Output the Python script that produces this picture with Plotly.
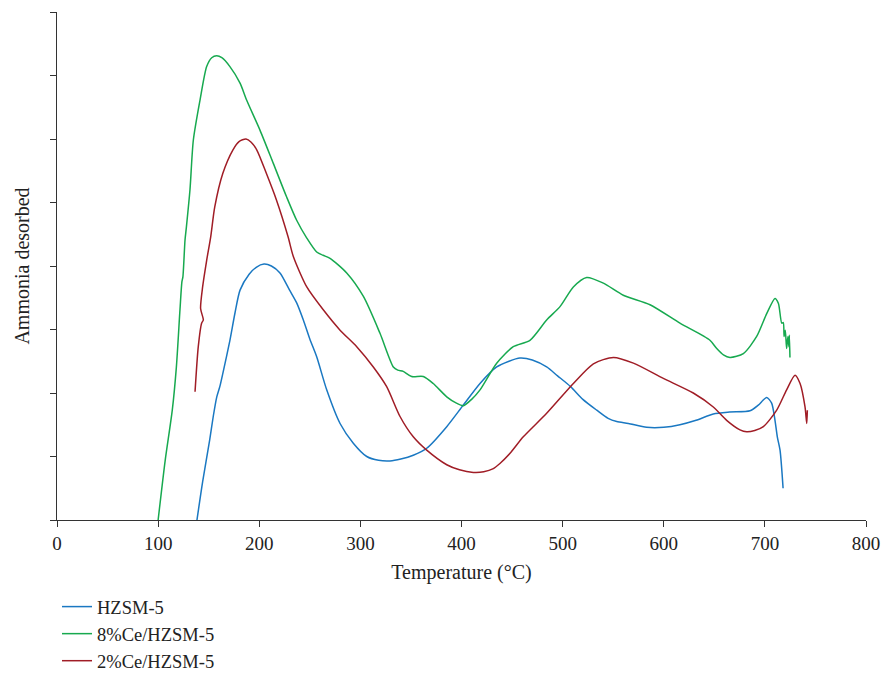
import plotly.graph_objects as go

# HZSM-5 (blue)
hz_t = [138.4, 144, 151, 154.5, 158, 161, 164, 171, 176, 181, 190, 197, 204.7, 212, 220.5, 230, 237,
        243.6, 250, 256.8, 266.7, 279.9, 293, 306.3, 318, 329.3, 340, 352.3, 365.6, 385.4, 401.8, 418.3,
        434.8, 447, 457.8, 470, 484.2, 495, 507.9, 520, 533.7, 545, 553.5, 565, 583.1, 600, 616, 632,
        649, 665, 685.3, 693.5, 701.8, 706.7, 710, 712.3, 715, 718]
hz_y = [0, 0.6, 1.26, 1.63, 1.94, 2.1, 2.31, 2.83, 3.26, 3.62, 3.87, 3.98, 4.03, 4.0, 3.89, 3.62, 3.42,
        3.15, 2.85, 2.57, 2.05, 1.52, 1.21, 1.0, 0.94, 0.93, 0.96, 1.02, 1.13, 1.47, 1.81, 2.15,
        2.41, 2.5, 2.55, 2.52, 2.41, 2.27, 2.1, 1.9, 1.73, 1.6, 1.55, 1.52, 1.46, 1.46, 1.5, 1.57,
        1.67, 1.7, 1.72, 1.81, 1.93, 1.84, 1.57, 1.31, 1.1, 0.5]

# 8%Ce/HZSM-5 (green)
ce8_t = [100, 107, 114, 118, 121.6, 123.5, 124.5, 126.6, 128, 131.5, 134.8, 141.4, 148, 153, 157.9, 163,
         171, 181, 187.6, 200.7, 213.8, 227, 237, 247, 256.8, 263, 270, 286.5, 303, 319.4, 332.6, 337,
         342.4, 350.7, 362.2, 372, 385.4, 395, 401.8, 410, 418.3, 434.8, 451.2, 467.7, 484.2, 497.4,
         510.6, 523.8, 540.3, 560, 586.4, 616, 645.7, 652.4, 659, 665.5, 678.7, 691.9, 701.8, 710,
         713.4, 716.7, 718.2, 719, 720.2, 721.5, 722.8, 723.8, 724.2, 724.8]
ce8_y = [0, 0.94, 1.73, 2.4, 3.31, 3.75, 3.83, 4.41, 4.62, 5.2, 5.98, 6.61, 7.14, 7.28, 7.31, 7.28,
         7.14, 6.88, 6.61, 6.14, 5.62, 5.09, 4.72, 4.44, 4.22, 4.17, 4.12, 3.89, 3.52, 2.94, 2.41, 2.36,
         2.34, 2.26, 2.26, 2.15, 1.94, 1.84, 1.8, 1.9, 2.05, 2.47, 2.73, 2.83, 3.15, 3.36,
         3.67, 3.82, 3.73, 3.54, 3.39, 3.1, 2.83, 2.7, 2.6, 2.56, 2.62, 2.89, 3.25, 3.49,
         3.41, 3.1, 3.11, 2.89, 2.99, 2.7, 2.89, 2.73, 2.91, 2.56]

# 2%Ce/HZSM-5 (red)
ce2_t = [136.5, 139.7, 143, 144.7, 142, 144, 148, 152, 156, 164, 174, 180, 186.9, 192, 197.5, 207, 217,
         228.5, 233.7, 247, 263.3, 279.9, 296.4, 312.8, 326, 339.2, 352.3, 365.6, 385.4, 398, 411.7, 422,
         431.5, 438, 448, 461.1, 484.2, 510.6, 530.4, 550.2, 570, 599.6, 629.2, 649, 662.2, 675.4, 682,
         690, 698.5, 711.7, 721.5, 729.8, 734.8, 739.7, 741.4, 742]
ce2_y = [2.02, 2.73, 3.1, 3.15, 3.33, 3.67, 4.09, 4.46, 4.93, 5.46, 5.83, 5.96, 6.0, 5.95, 5.83, 5.46, 5.04,
         4.46, 4.15, 3.67, 3.31, 2.99, 2.73, 2.41, 2.1, 1.63, 1.31, 1.1, 0.87, 0.79, 0.75, 0.76,
         0.81, 0.89, 1.05, 1.31, 1.68, 2.15, 2.46, 2.56, 2.47, 2.23, 2.0, 1.78, 1.57, 1.42, 1.39,
         1.41, 1.47, 1.73, 2.05, 2.28, 2.15, 1.78, 1.52, 1.73]

names = ["HZSM-5", "8%Ce/HZSM-5", "2%Ce/HZSM-5"]
colors = ["#1a78c2", "#17a94f", "#a01d26"]
x_ticks = [0, 100, 200, 300, 400, 500, 600, 700, 800]

FONT = "Liberation Serif"

fig = go.Figure()
for t, y, n, c in zip([hz_t, ce8_t, ce2_t], [hz_y, ce8_y, ce2_y], names, colors):
    fig.add_trace(go.Scatter(x=t, y=y, name=n, mode="lines",
                             line=dict(color=c, width=1.5, shape="spline", smoothing=0.7)))

fig.update_layout(
    width=883, height=675,
    margin=dict(l=57, r=17, t=12, b=155, autoexpand=False),
    paper_bgcolor="white", plot_bgcolor="white",
    font=dict(family=FONT, size=19, color="#222"),
    showlegend=True,
    legend=dict(x=0.0, y=-0.134, xanchor="left", yanchor="top",
                font=dict(family=FONT, size=18.5, color="#222"),
                bgcolor="rgba(0,0,0,0)", itemwidth=30),
    xaxis=dict(range=[0, 800], tickvals=x_ticks, ticktext=[str(v) for v in x_ticks],
               showgrid=False, zeroline=False, showline=True, linecolor="#333", linewidth=1.2,
               ticks="outside", ticklen=6, tickcolor="#333", automargin=True,
               tickfont=dict(family=FONT, size=19),
               title=dict(text="Temperature (°C)", font=dict(family=FONT, size=20), standoff=12)),
    yaxis=dict(range=[0, 8], dtick=1, showticklabels=False, automargin=True,
               showgrid=False, zeroline=False, showline=True, linecolor="#333", linewidth=1.2,
               ticks="outside", ticklen=6, tickcolor="#333",
               title=dict(text="Ammonia desorbed", font=dict(family=FONT, size=20), standoff=14)),
)

fig.write_html("out.html")
